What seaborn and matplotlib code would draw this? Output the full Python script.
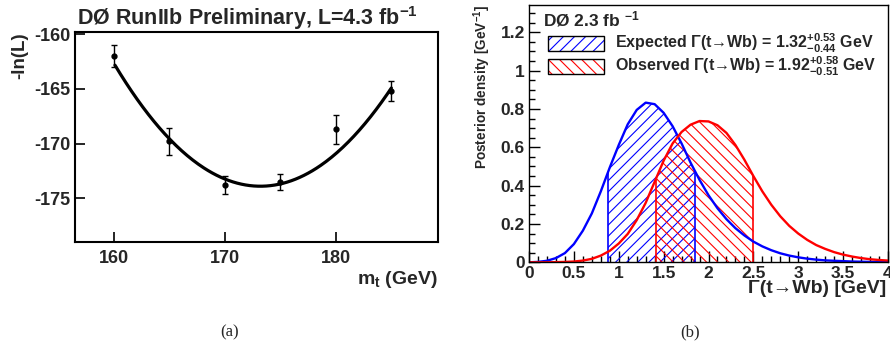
import numpy as np
import pandas as pd
import matplotlib
matplotlib.use("Agg")
import matplotlib.pyplot as plt
import seaborn as sns
from matplotlib.patches import Patch
from matplotlib.legend_handler import HandlerTuple
from matplotlib.ticker import MultipleLocator, FixedLocator

# ---------------- data: panel (a) ----------------
mass_points = [160, 165, 170, 175, 180, 185]
neg_log_l = [-162.0, -169.8, -173.8, -173.5, -168.7, -165.2]
neg_log_l_err = [1.0, 1.2, 0.8, 0.75, 1.3, 0.9]
# quadratic fit
fit_min_mass = 173.2
fit_min_value = -173.9
fit_curvature = 0.0645
fit_range = [160.1, 185.0]
left_xticks = [160, 170, 180]
left_yticks = [-175, -170, -165, -160]

# ---------------- data: panel (b) ----------------
width_grid = [0.0, 0.1, 0.2, 0.3, 0.4, 0.5, 0.6, 0.7, 0.8, 0.9,
              1.0, 1.1, 1.2, 1.3, 1.4, 1.5, 1.6, 1.7, 1.8, 1.9,
              2.0, 2.1, 2.2, 2.3, 2.4, 2.5, 2.6, 2.7, 2.8, 2.9,
              3.0, 3.1, 3.2, 3.3, 3.4, 3.5, 3.6, 3.7, 3.8, 3.9, 4.0]
expected_density = [0.000, 0.002, 0.008, 0.022, 0.048, 0.095, 0.165, 0.255, 0.370, 0.495,
                    0.612, 0.720, 0.795, 0.833, 0.825, 0.780, 0.710, 0.620, 0.520, 0.430,
                    0.350, 0.282, 0.225, 0.178, 0.140, 0.108, 0.083, 0.063, 0.047, 0.035,
                    0.026, 0.019, 0.014, 0.010, 0.008, 0.006, 0.004, 0.003, 0.002, 0.002, 0.001]
observed_density = [0.000, 0.000, 0.000, 0.001, 0.002, 0.004, 0.009, 0.018, 0.035, 0.060,
                    0.098, 0.148, 0.220, 0.310, 0.420, 0.530, 0.620, 0.680, 0.718, 0.737,
                    0.735, 0.715, 0.675, 0.612, 0.535, 0.450, 0.370, 0.300, 0.240, 0.190,
                    0.150, 0.117, 0.090, 0.070, 0.053, 0.040, 0.030, 0.022, 0.016, 0.012, 0.009]
expected_central, expected_up, expected_down = 1.32, 0.53, 0.44
observed_central, observed_up, observed_down = 1.92, 0.58, 0.51
right_xticks = [0, 0.5, 1, 1.5, 2, 2.5, 3, 3.5, 4]
right_xticklabels = ["0", "0.5", "1", "1.5", "2", "2.5", "3", "3.5", "4"]
right_yticks = [0, 0.2, 0.4, 0.6, 0.8, 1.0, 1.2]
right_yticklabels = ["0", "0.2", "0.4", "0.6", "0.8", "1", "1.2"]

# ---------------- style ----------------
sns.set_theme(style="ticks")
plt.rcParams["font.family"] = ["Liberation Sans", "DejaVu Sans"]
plt.rcParams["font.weight"] = "bold"
plt.rcParams["mathtext.fontset"] = "custom"
plt.rcParams["mathtext.rm"] = "Liberation Sans:bold"
plt.rcParams["mathtext.it"] = "Liberation Sans:bold"
plt.rcParams["mathtext.bf"] = "Liberation Sans:bold"
plt.rcParams["mathtext.sf"] = "Liberation Sans:bold"
plt.rcParams["hatch.linewidth"] = 0.8

W, H = 890, 354
fig = plt.figure(figsize=(W / 100, H / 100), dpi=100)
fig.patch.set_facecolor("white")

# ---------------- panel (a) ----------------
axL = fig.add_axes([75 / W, 1 - 242 / H, 363 / W, 210 / H])
axL.set_facecolor("white")
curve_x = np.linspace(fit_range[0], fit_range[1], 200)
curve_y = fit_min_value + fit_curvature * (curve_x - fit_min_mass) ** 2
sns.lineplot(x=curve_x, y=curve_y, ax=axL, color="black", linewidth=2.3, sort=False)
axL.errorbar(mass_points, neg_log_l, yerr=neg_log_l_err, fmt="o", color="black",
             ms=3.5, capsize=2, elinewidth=1.0, capthick=1.0, zorder=3)
axL.set_xlim(156.5, 189.2)
axL.set_ylim(-179.0, -159.8)
axL.xaxis.set_major_locator(FixedLocator(left_xticks))
axL.yaxis.set_major_locator(FixedLocator(left_yticks))
axL.set_xticklabels([str(t) for t in left_xticks])
axL.set_yticklabels([str(t) for t in left_yticks])
axL.tick_params(direction="in", length=7, width=1.2, labelsize=13, pad=3, color="black")
axL.tick_params(axis="x", pad=6)
for s in axL.spines.values():
    s.set_linewidth(1.5)
    s.set_color("black")
axL.set_xlabel(r"m$_{\mathregular{t}}$ (GeV)", fontsize=14, fontweight="bold", loc="right")
axL.xaxis.set_label_coords(1.0, -0.13)
axL.xaxis.label.set_va("top")
axL.set_ylabel("-ln(L)", fontsize=13.5, fontweight="bold", loc="top")
axL.yaxis.set_label_coords(-0.13, 1.0)
fig.text(247.5 / W, 1 - 25 / H, "DØ RunIIb Preliminary, L=4.3 fb$^{-1}$",
         ha="center", va="baseline", fontsize=15.5, fontweight="bold")

# ---------------- panel (b) ----------------
axR = fig.add_axes([529 / W, 1 - 262.3 / H, 359 / W, 257.6 / H])
axR.set_facecolor("white")
df = pd.DataFrame({"width": width_grid, "Expected": expected_density,
                   "Observed": observed_density})

bands = [
    (expected_central, expected_up, expected_down, expected_density, "#0000ff", "///"),
    (observed_central, observed_up, observed_down, observed_density, "#ff0000", "\\\\\\"),
]
for central, up, down, dens, col, hatch in bands:
    lo, hi = central - down, central + up
    xs = [lo] + [w for w in width_grid if lo < w < hi] + [hi]
    ys = np.interp(xs, width_grid, dens)
    axR.fill_between(xs, 0, ys, facecolor="none", edgecolor=col, hatch=hatch, linewidth=0)
    axR.vlines([lo, hi], 0, [ys[0], ys[-1]], color=col, linewidth=1.2)

sns.lineplot(data=df, x="width", y="Expected", ax=axR, color="#0000ff", linewidth=1.7)
sns.lineplot(data=df, x="width", y="Observed", ax=axR, color="#ff0000", linewidth=1.7)

axR.set_xlim(0, 4)
axR.set_ylim(0, 1.344)
axR.xaxis.set_major_locator(FixedLocator(right_xticks))
axR.yaxis.set_major_locator(FixedLocator(right_yticks))
axR.set_xticklabels(right_xticklabels)
axR.set_yticklabels(right_yticklabels)
axR.xaxis.set_minor_locator(MultipleLocator(0.1))
axR.yaxis.set_minor_locator(MultipleLocator(0.05))
axR.tick_params(which="major", direction="in", length=8, width=1.0, labelsize=12.5,
                pad=3, color="black")
axR.tick_params(which="minor", direction="in", length=4, width=1.0, color="black")
for s in axR.spines.values():
    s.set_linewidth(1.0)
    s.set_color("black")
axR.set_xlabel("Γ(t→Wb) [GeV]", fontsize=14, fontweight="bold", loc="right")
axR.xaxis.set_label_coords(0.9964, -0.069)
axR.xaxis.label.set_va("top")
axR.set_ylabel("Posterior density [GeV$^{-1}$]", fontsize=9.8, fontweight="bold", loc="top")
axR.yaxis.set_label_coords(-0.10, 1.0)

axR.text(543 / W, 1 - 19 / H, "DØ 2.3 fb $^{-1}$", transform=fig.transFigure,
         ha="left", va="center", fontsize=12.5, fontweight="bold")

handles = [
    (Patch(facecolor="white", edgecolor="#0000ff", hatch="///", linewidth=0),
     Patch(fill=False, edgecolor="black", linewidth=1.0)),
    (Patch(facecolor="white", edgecolor="#ff0000", hatch="\\\\\\", linewidth=0),
     Patch(fill=False, edgecolor="black", linewidth=1.0)),
]
labels = [
    r"Expected Γ(t→Wb) = 1.32$^{+0.53}_{-0.44}$ GeV",
    r"Observed Γ(t→Wb) = 1.92$^{+0.58}_{-0.51}$ GeV",
]
axR.legend(handles, labels, handler_map={tuple: HandlerTuple(ndivide=1)},
           loc="upper left", bbox_to_anchor=(547.7 / W, 1 - 32 / H),
           bbox_transform=fig.transFigure, frameon=False, borderpad=0,
           borderaxespad=0, handlelength=3.5, handleheight=1.06, handletextpad=0.7,
           labelspacing=0.0, prop={"size": 11.5, "weight": "bold"})

# ---------------- captions ----------------
fig.text(230 / W, 1 - 332 / H, "(a)", ha="center", va="center", fontsize=12,
         family="Liberation Serif", fontweight="normal")
fig.text(690 / W, 1 - 332 / H, "(b)", ha="center", va="center", fontsize=12,
         family="Liberation Serif", fontweight="normal")

fig.savefig("out.png", dpi=100, facecolor="white")
